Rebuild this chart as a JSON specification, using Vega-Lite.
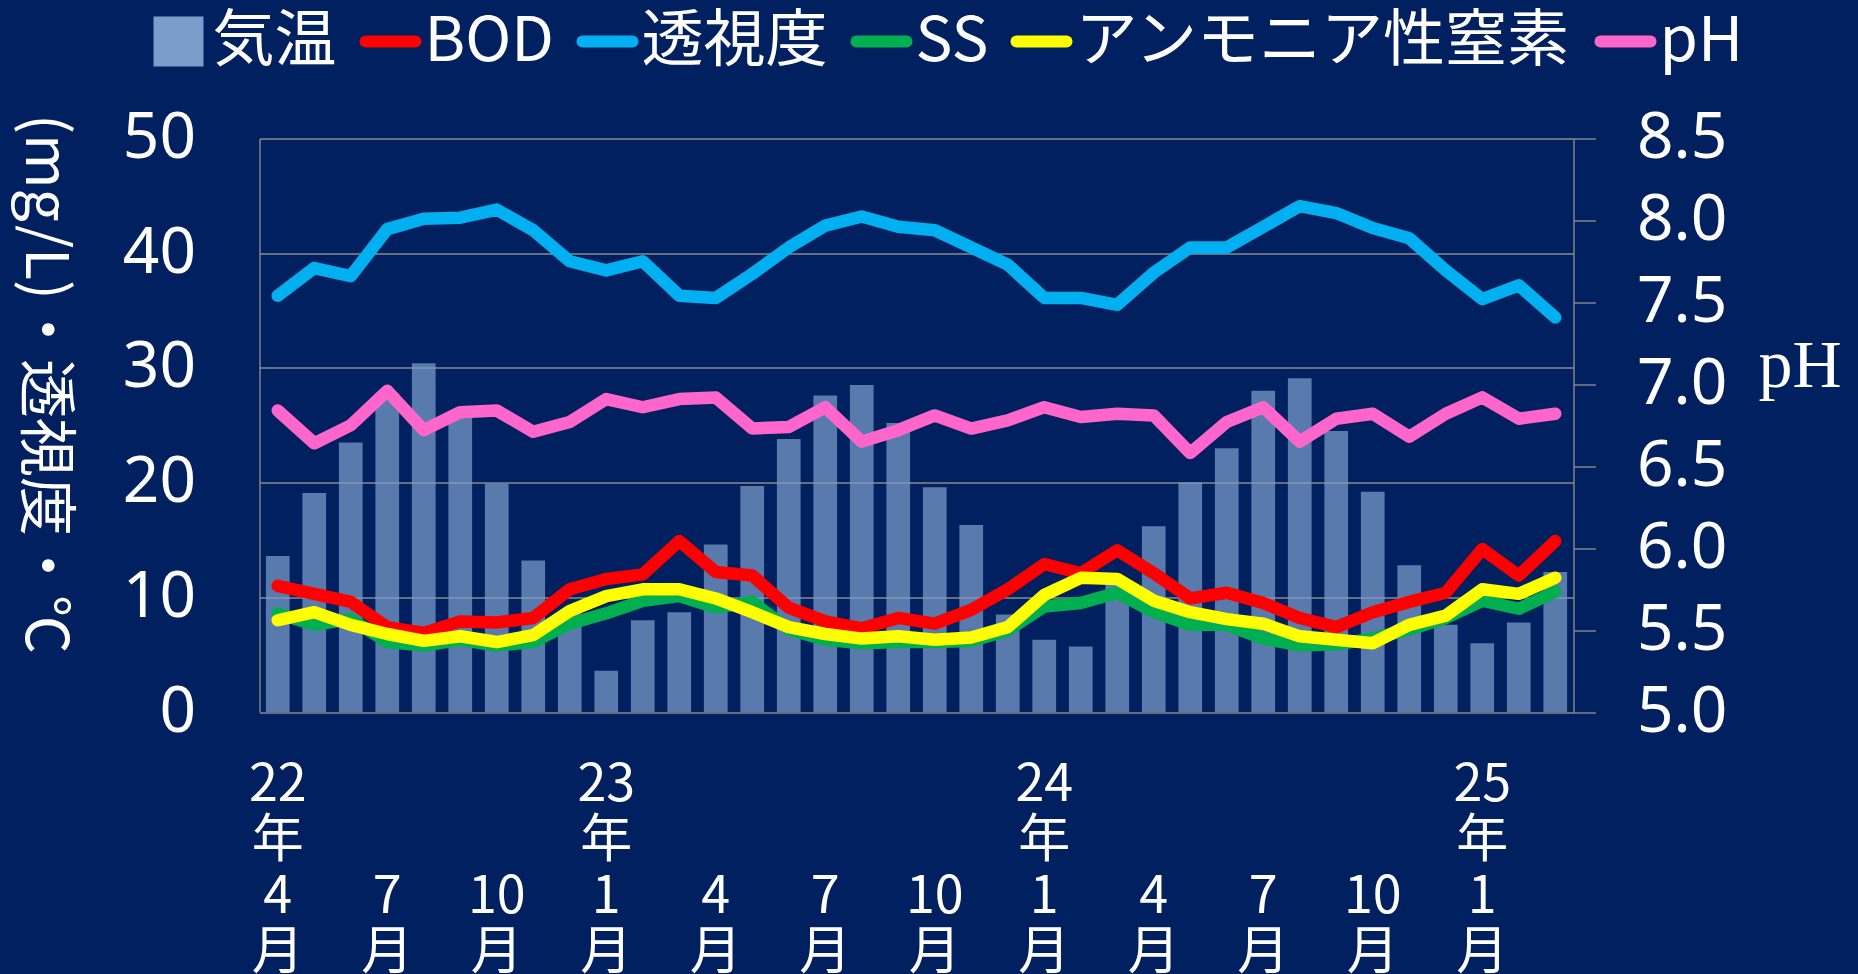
{
  "$schema": "https://vega.github.io/schema/vega-lite/v6.json",
  "autosize": "none",
  "width": 1314,
  "height": 573.5,
  "padding": {"left": 259.5, "top": 138.5, "right": 284.5, "bottom": 262},
  "background": "#002060",
  "config": {
    "view": {"stroke": null},
    "axis": {"labelColor": "white", "titleColor": "white", "gridColor": "#8A8A8A", "domainColor": "#8A8A8A", "tickColor": "#8A8A8A", "gridWidth": 1.4, "domainWidth": 1.4, "tickWidth": 1.4}
  },
  "data": {"values": [
    {"month": "2022/04", "temp": 13.6, "bod": 11.0, "trans": 36.3, "ss": 8.6, "nh4": 8.0, "ph": 6.84},
    {"month": "2022/05", "temp": 19.1, "bod": 10.3, "trans": 38.7, "ss": 7.6, "nh4": 8.7, "ph": 6.64},
    {"month": "2022/06", "temp": 23.5, "bod": 9.6, "trans": 38.0, "ss": 8.1, "nh4": 7.6, "ph": 6.75},
    {"month": "2022/07", "temp": 27.8, "bod": 7.4, "trans": 42.1, "ss": 6.1, "nh4": 6.8, "ph": 6.96},
    {"month": "2022/08", "temp": 30.4, "bod": 6.9, "trans": 43.0, "ss": 5.8, "nh4": 6.2, "ph": 6.72},
    {"month": "2022/09", "temp": 25.9, "bod": 7.9, "trans": 43.1, "ss": 6.3, "nh4": 6.6, "ph": 6.83},
    {"month": "2022/10", "temp": 19.9, "bod": 7.8, "trans": 43.8, "ss": 5.8, "nh4": 6.1, "ph": 6.84},
    {"month": "2022/11", "temp": 13.2, "bod": 8.2, "trans": 42.0, "ss": 6.1, "nh4": 6.7, "ph": 6.71},
    {"month": "2022/12", "temp": 8.6, "bod": 10.7, "trans": 39.3, "ss": 7.7, "nh4": 8.8, "ph": 6.77},
    {"month": "2023/01", "temp": 3.6, "bod": 11.6, "trans": 38.5, "ss": 8.6, "nh4": 10.1, "ph": 6.91},
    {"month": "2023/02", "temp": 8.0, "bod": 12.0, "trans": 39.3, "ss": 9.7, "nh4": 10.7, "ph": 6.86},
    {"month": "2023/03", "temp": 8.7, "bod": 14.9, "trans": 36.3, "ss": 10.1, "nh4": 10.7, "ph": 6.91},
    {"month": "2023/04", "temp": 14.6, "bod": 12.2, "trans": 36.1, "ss": 9.1, "nh4": 9.9, "ph": 6.92},
    {"month": "2023/05", "temp": 19.7, "bod": 11.9, "trans": 38.2, "ss": 9.6, "nh4": 8.7, "ph": 6.73},
    {"month": "2023/06", "temp": 23.8, "bod": 9.1, "trans": 40.5, "ss": 7.2, "nh4": 7.4, "ph": 6.74},
    {"month": "2023/07", "temp": 27.6, "bod": 7.9, "trans": 42.4, "ss": 6.3, "nh4": 6.8, "ph": 6.86},
    {"month": "2023/08", "temp": 28.5, "bod": 7.3, "trans": 43.2, "ss": 6.0, "nh4": 6.4, "ph": 6.65},
    {"month": "2023/09", "temp": 25.2, "bod": 8.2, "trans": 42.3, "ss": 6.1, "nh4": 6.6, "ph": 6.72},
    {"month": "2023/10", "temp": 19.6, "bod": 7.7, "trans": 42.0, "ss": 6.1, "nh4": 6.3, "ph": 6.81},
    {"month": "2023/11", "temp": 16.3, "bod": 8.9, "trans": 40.5, "ss": 6.2, "nh4": 6.5, "ph": 6.73},
    {"month": "2023/12", "temp": 8.5, "bod": 10.7, "trans": 39.0, "ss": 7.1, "nh4": 7.4, "ph": 6.78},
    {"month": "2024/01", "temp": 6.3, "bod": 12.9, "trans": 36.1, "ss": 9.2, "nh4": 10.2, "ph": 6.86},
    {"month": "2024/02", "temp": 5.7, "bod": 12.1, "trans": 36.1, "ss": 9.5, "nh4": 11.7, "ph": 6.80},
    {"month": "2024/03", "temp": 11.3, "bod": 14.1, "trans": 35.5, "ss": 10.4, "nh4": 11.6, "ph": 6.82},
    {"month": "2024/04", "temp": 16.2, "bod": 12.1, "trans": 38.3, "ss": 8.7, "nh4": 9.7, "ph": 6.81},
    {"month": "2024/05", "temp": 20.0, "bod": 9.9, "trans": 40.5, "ss": 7.6, "nh4": 8.7, "ph": 6.58},
    {"month": "2024/06", "temp": 23.0, "bod": 10.4, "trans": 40.5, "ss": 7.6, "nh4": 8.1, "ph": 6.77},
    {"month": "2024/07", "temp": 28.0, "bod": 9.5, "trans": 42.3, "ss": 6.4, "nh4": 7.7, "ph": 6.86},
    {"month": "2024/08", "temp": 29.1, "bod": 8.2, "trans": 44.1, "ss": 5.8, "nh4": 6.6, "ph": 6.65},
    {"month": "2024/09", "temp": 24.5, "bod": 7.4, "trans": 43.5, "ss": 5.9, "nh4": 6.3, "ph": 6.79},
    {"month": "2024/10", "temp": 19.2, "bod": 8.7, "trans": 42.2, "ss": 6.4, "nh4": 6.0, "ph": 6.82},
    {"month": "2024/11", "temp": 12.8, "bod": 9.6, "trans": 41.3, "ss": 7.2, "nh4": 7.6, "ph": 6.68},
    {"month": "2024/12", "temp": 7.6, "bod": 10.4, "trans": 38.5, "ss": 8.2, "nh4": 8.4, "ph": 6.82},
    {"month": "2025/01", "temp": 6.0, "bod": 14.2, "trans": 36.0, "ss": 9.7, "nh4": 10.7, "ph": 6.92},
    {"month": "2025/02", "temp": 7.8, "bod": 11.9, "trans": 37.2, "ss": 9.0, "nh4": 10.3, "ph": 6.79},
    {"month": "2025/03", "temp": 12.2, "bod": 14.9, "trans": 34.4, "ss": 10.5, "nh4": 11.7, "ph": 6.82}
  ]},
  "layer": [
    {
      "encoding": {
        "x": {
          "field": "month", "type": "ordinal",
          "scale": {"paddingInner": 0.35, "paddingOuter": 0.175},
          "axis": {
            "orient": "bottom", "title": null, "domain": false, "ticks": false, "grid": false, "labelAngle": 0,
            "labelAlign": "center", "labelBaseline": "top", "labelOverlap": false,
            "labelFont": "Noto Sans CJK JP", "labelFontSize": 52, "labelLineHeight": 56, "labelPadding": 159, "labelColor": "white",
            "labelExpr": "(toNumber(slice(datum.value,5,7)) % 3 != 1) ? '' : ['' + toNumber(slice(datum.value,5,7)), '月']"
          }
        }
      },
      "layer": [
        {
          "mark": {"type": "bar", "opacity": 0.72},
          "encoding": {
            "y": {
              "field": "temp", "type": "quantitative", "title": "(mg/L)・透視度・℃",
              "scale": {"domain": [0, 50], "nice": false},
              "axis": {
                "orient": "left", "values": [0, 10, 20, 30, 40, 50], "grid": true, "domain": true, "ticks": false, "tickSize": 0,
                "labelFont": "Noto Sans", "labelFontSize": 64, "labelPadding": 64, "labelOverlap": false,
                "titleAngle": 90, "titleX": -216, "titleY": 245, "titleAlign": "center", "titleBaseline": "middle",
                "titleFont": "Noto Sans CJK JP", "titleFontSize": 59, "titleFontWeight": "normal"
              }
            },
            "color": {
              "datum": "気温", "type": "nominal",
              "scale": {"domain": ["気温", "BOD", "透視度", "SS", "アンモニア性窒素", "pH"], "range": ["#7A9DCB", "#FF0000", "#00B0F0", "#00B050", "#FFFF00", "#FF66CC"]},
              "legend": {
                "orient": "none", "legendX": -112, "legendY": -128, "direction": "horizontal", "title": null,
                "labelFont": "Noto Sans CJK JP", "labelFontSize": 62, "labelColor": "white", "labelLimit": 1000, "labelOffset": 3,
                "symbolSize": 2500, "columnPadding": 4, "padding": 0, "symbolOpacity": 1,
                "encode": {"symbols": {"update": {
                  "shape": {"signal": "datum.value === '気温' ? 'square' : 'stroke'"},
                  "fill": {"signal": "datum.value === '気温' ? '#5578AA' : 'transparent'"},
                  "stroke": {"signal": "datum.value === '気温' ? 'transparent' : (datum.value === 'BOD' ? '#FF0000' : datum.value === '透視度' ? '#00B0F0' : datum.value === 'SS' ? '#00B050' : datum.value === 'pH' ? '#FF66CC' : '#FFFF00')"},
                  "strokeWidth": {"signal": "datum.value === '気温' ? 0 : 12"},
                  "strokeCap": {"value": "round"},
                  "opacity": {"value": 1}
                }}}
              }
            }
          }
        },
        {
          "mark": {"type": "line", "strokeWidth": 12.5, "strokeCap": "round", "strokeJoin": "round"},
          "encoding": {
            "y": {"field": "bod", "type": "quantitative", "title": "(mg/L)・透視度・℃", "scale": {"domain": [0, 50], "nice": false}},
            "color": {"datum": "BOD", "type": "nominal"}
          }
        },
        {
          "mark": {"type": "line", "strokeWidth": 12.5, "strokeCap": "round", "strokeJoin": "round"},
          "encoding": {
            "y": {"field": "trans", "type": "quantitative", "title": "(mg/L)・透視度・℃", "scale": {"domain": [0, 50], "nice": false}},
            "color": {"datum": "透視度", "type": "nominal"}
          }
        },
        {
          "mark": {"type": "line", "strokeWidth": 12.5, "strokeCap": "round", "strokeJoin": "round"},
          "encoding": {
            "y": {"field": "ss", "type": "quantitative", "title": "(mg/L)・透視度・℃", "scale": {"domain": [0, 50], "nice": false}},
            "color": {"datum": "SS", "type": "nominal"}
          }
        },
        {
          "mark": {"type": "line", "strokeWidth": 12.5, "strokeCap": "round", "strokeJoin": "round"},
          "encoding": {
            "y": {"field": "nh4", "type": "quantitative", "title": "(mg/L)・透視度・℃", "scale": {"domain": [0, 50], "nice": false}},
            "color": {"datum": "アンモニア性窒素", "type": "nominal"}
          }
        }
      ]
    },
    {
      "mark": {"type": "line", "strokeWidth": 12.5, "strokeCap": "round", "strokeJoin": "round"},
      "encoding": {
        "x": {
          "field": "month", "type": "ordinal",
          "scale": {"paddingInner": 0.35, "paddingOuter": 0.175},
          "axis": {
            "orient": "bottom", "title": null, "domain": false, "ticks": false, "grid": false, "labelAngle": 0,
            "labelAlign": "center", "labelBaseline": "top", "labelOverlap": false,
            "labelFont": "Noto Sans CJK JP", "labelFontSize": 52, "labelLineHeight": 56, "labelPadding": 47, "labelColor": "white",
            "labelExpr": "(slice(datum.value,5,7) == '01' || datum.value == '2022/04') ? [slice(datum.value,2,4), '年'] : ''"
          }
        },
        "y": {
          "field": "ph", "type": "quantitative", "title": "pH",
          "scale": {"domain": [5, 8.5], "nice": false, "zero": false},
          "axis": {
            "orient": "right", "values": [5, 5.5, 6, 6.5, 7, 7.5, 8, 8.5], "format": ".1f", "grid": false, "domain": true,
            "ticks": true, "tickSize": 22, "labelPadding": 41, "labelFont": "Noto Sans", "labelFontSize": 64, "labelOverlap": false,
            "titleAngle": 0, "titleX": 226, "titleY": 228, "titleAlign": "center", "titleBaseline": "middle",
            "titleFont": "Liberation Serif", "titleFontSize": 68, "titleFontWeight": "normal"
          }
        },
        "color": {"datum": "pH", "type": "nominal"}
      }
    }
  ],
  "resolve": {"scale": {"y": "independent"}, "axis": {"y": "independent", "x": "independent"}}
}
